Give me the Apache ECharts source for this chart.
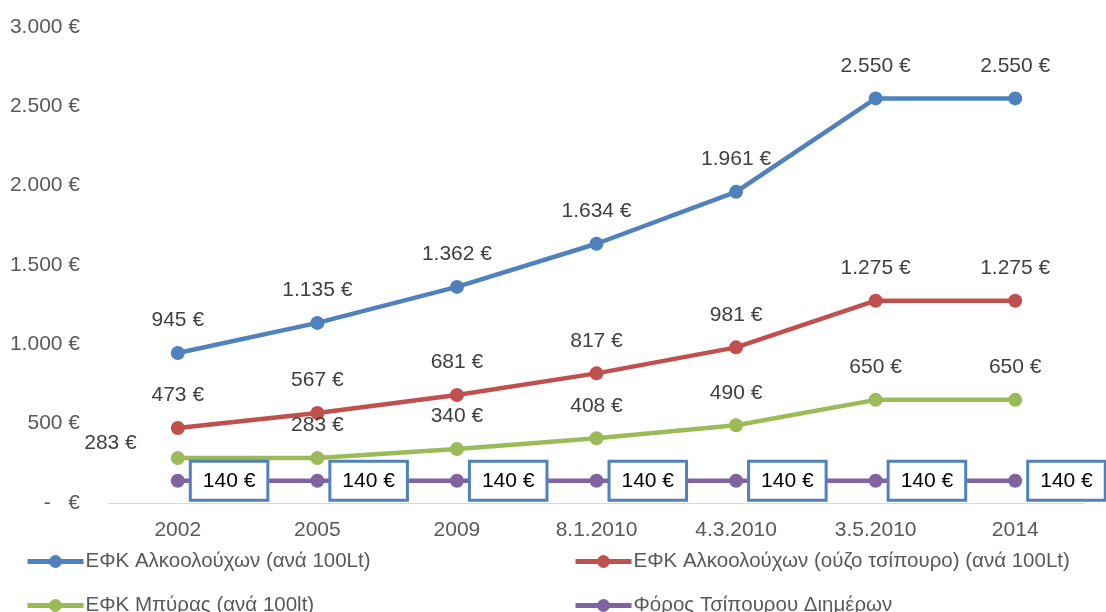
<!DOCTYPE html>
<html>
<head>
<meta charset="utf-8">
<script src="https://cdn.jsdelivr.net/npm/echarts@6/dist/echarts.min.js"></script>
<style>html,body{margin:0;padding:0;background:#fff}#c{width:1106px;height:612px}</style>
</head>
<body>
<div id="c"></div>
<script>
const categories = ['2002','2005','2009','8.1.2010','4.3.2010','3.5.2010','2014'];
const seriesNames = ['ΕΦΚ Αλκοολούχων (ανά 100Lt)','ΕΦΚ Αλκοολούχων (ούζο τσίπουρο) (ανά 100Lt)','ΕΦΚ Μπύρας (ανά 100lt)','Φόρος Τσίπουρου Διημέρων'];
const alcohol = [945,1135,1362,1634,1961,2550,2550];
const ouzo = [473,567,681,817,981,1275,1275];
const beer = [283,283,340,408,490,650,650];
const tsipouro = [140,140,140,140,140,140,140];
const yTicks = [0,500,1000,1500,2000,2500,3000];

const FONT = 'Liberation Sans';
function euro(v){
  if (v === 0) return '-   €';
  return String(v).replace(/\B(?=(\d{3})+(?!\d))/g,'.') + ' €';
}
const colors = ['#4F81BD','#C0504D','#9BBB59','#8064A2'];
function mk(name, data, color, label){
  return {
    name, type:'line', data, color,
    symbol:'circle', symbolSize:14,
    lineStyle:{width:4.5,color},
    itemStyle:{color},
    label: Object.assign({show:true, fontFamily:FONT, fontSize:21, color:'#404040',
      formatter:p=>euro(p.value)}, label),
    emphasis:{disabled:true}
  };
}
function lg(name, left, top){
  return {data:[name],left,top,padding:0,itemWidth:56,itemHeight:16,itemGap:0,
    lineStyle:{width:5},
    textStyle:{fontFamily:FONT,fontSize:20.5,color:'#595959',padding:[0,0,0,-3]}};
}
const beerData = beer.map((v,i)=> i===0 ? {value:v,label:{position:'left',distance:34,offset:[0,-15]}} : v);
const chart = echarts.init(document.getElementById('c'));
chart.setOption({
  animation:false,
  grid:{left:108,right:21,top:27,bottom:109},
  xAxis:{type:'category',data:categories,boundaryGap:true,
    axisLine:{lineStyle:{color:'#D9D9D9',width:1}},axisTick:{show:false},
    axisLabel:{fontFamily:FONT,fontSize:21,color:'#595959',margin:17}},
  yAxis:{type:'value',min:yTicks[0],max:yTicks[yTicks.length-1],interval:500,
    splitLine:{show:false},axisLine:{show:false},axisTick:{show:false},
    axisLabel:{fontFamily:FONT,fontSize:21,color:'#595959',margin:28,formatter:v=>euro(v)}},
  legend:[
    lg(seriesNames[0],25,551),
    lg(seriesNames[2],25,595),
    lg(seriesNames[1],573,551),
    lg(seriesNames[3],573,595)
  ],
  series:[
    mk(seriesNames[0],alcohol,colors[0],{position:'top',distance:15}),
    mk(seriesNames[1],ouzo,colors[1],{position:'top',distance:15}),
    mk(seriesNames[2],beerData,colors[2],{position:'top',distance:15}),
    mk(seriesNames[3],tsipouro,colors[3],{position:'right',distance:7,color:'#000',
      backgroundColor:'#fff',borderColor:'#4F81BD',borderWidth:3,padding:[8,11,7,11]})
  ]
});
</script>
</body>
</html>
